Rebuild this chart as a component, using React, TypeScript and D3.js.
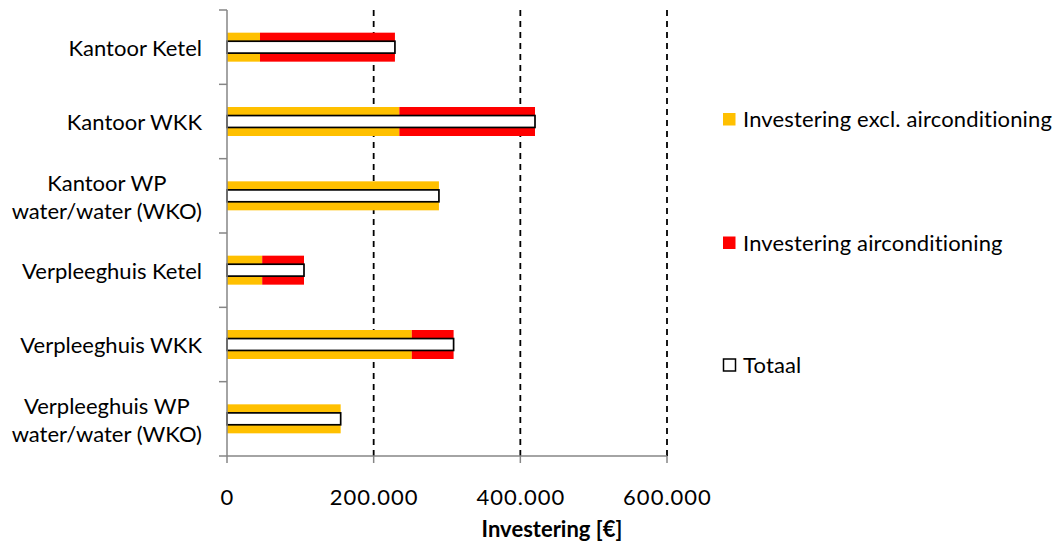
import React, { useEffect, useRef } from "react";
import * as d3 from "d3";

// Investment per building / installation variant (euro)
const categories: string[][] = [
  ["Kantoor Ketel"],
  ["Kantoor WKK"],
  ["Kantoor WP", "water/water (WKO)"],
  ["Verpleeghuis Ketel"],
  ["Verpleeghuis WKK"],
  ["Verpleeghuis WP", "water/water (WKO)"],
];
const exclAirco: number[] = [45000, 235000, 289000, 48000, 252000, 155000];
const airco: number[] = [184000, 185000, 0, 57000, 57000, 0];
const totaal: number[] = exclAirco.map((v, i) => v + airco[i]);

const xTicks: number[] = [0, 200000, 400000, 600000];
const seriesNames: string[] = [
  "Investering excl. airconditioning",
  "Investering airconditioning",
  "Totaal",
];
const axisTitle = "Investering [€]";

const W = 1062;
const H = 546;
const FONT = "Lato, 'Open Sans', sans-serif";
const FS = 22;
const ORANGE = "#FFC000";
const RED = "#FF0000";
const AXIS = "#868686";

const fmt = (v: number) =>
  v === 0 ? "0" : d3.format(",")(v).replace(/,/g, ".");

export default function App() {
  const ref = useRef<SVGSVGElement | null>(null);

  useEffect(() => {
    const svg = d3.select(ref.current);
    svg.selectAll("*").remove();

    const x = d3.scaleLinear().domain([0, 600000]).range([227, 667]);
    const keys = categories.map((c) => c.join(" "));
    const y = d3.scaleBand<string>().domain(keys).range([10, 456]).padding(0);
    const bw = y.bandwidth();
    const barH = bw * 0.39;
    const totH = bw * 0.16;

    // dashed vertical gridlines
    svg
      .append("g")
      .selectAll("line")
      .data(xTicks.filter((t) => t > 0))
      .join("line")
      .attr("x1", (d) => x(d))
      .attr("x2", (d) => x(d))
      .attr("y1", 10)
      .attr("y2", 456)
      .attr("stroke", "#000")
      .attr("stroke-width", 1.8)
      .attr("stroke-dasharray", "6,5");

    // stacked bars
    const rows = keys.map((k, i) => ({ k, a: exclAirco[i], b: airco[i], t: totaal[i] }));
    const bars = svg.append("g");
    bars
      .selectAll("rect.excl")
      .data(rows)
      .join("rect")
      .attr("class", "excl")
      .attr("x", x(0))
      .attr("y", (d) => (y(d.k) as number) + bw / 2 - barH / 2)
      .attr("width", (d) => x(d.a) - x(0))
      .attr("height", barH)
      .attr("fill", ORANGE);
    bars
      .selectAll("rect.airco")
      .data(rows.filter((d) => d.b > 0))
      .join("rect")
      .attr("class", "airco")
      .attr("x", (d) => x(d.a))
      .attr("y", (d) => (y(d.k) as number) + bw / 2 - barH / 2)
      .attr("width", (d) => x(d.a + d.b) - x(d.a))
      .attr("height", barH)
      .attr("fill", RED);
    bars
      .selectAll("rect.tot")
      .data(rows)
      .join("rect")
      .attr("class", "tot")
      .attr("x", x(0))
      .attr("y", (d) => (y(d.k) as number) + bw / 2 - totH / 2)
      .attr("width", (d) => x(d.t) - x(0))
      .attr("height", totH)
      .attr("fill", "#fff")
      .attr("stroke", "#000")
      .attr("stroke-width", 1.7);

    // y axis
    const yAxis = svg.append("g");
    yAxis
      .append("line")
      .attr("x1", 227)
      .attr("x2", 227)
      .attr("y1", 10)
      .attr("y2", 456)
      .attr("stroke", AXIS)
      .attr("stroke-width", 1.5);
    const bounds = keys.map((k) => y(k) as number).concat([456]);
    yAxis
      .selectAll("line.tick")
      .data(bounds)
      .join("line")
      .attr("class", "tick")
      .attr("x1", 219)
      .attr("x2", 227)
      .attr("y1", (d) => d)
      .attr("y2", (d) => d)
      .attr("stroke", AXIS)
      .attr("stroke-width", 1.5);

    // category labels: right aligned block, lines centred within it
    const labelRight = 202;
    categories.forEach((lines, i) => {
      const cy = (y(keys[i]) as number) + bw / 2;
      const g = yAxis.append("g");
      const texts = lines.map((ln, j) =>
        g
          .append("text")
          .attr("font-family", FONT)
          .attr("font-size", FS)
          .attr("fill", "#000")
          .attr("text-anchor", "middle")
          .attr("y", lines.length === 1 ? cy + 8.5 : cy + (j === 0 ? -4.5 : 23))
          .text(ln)
      );
      const widths = texts.map((t) => (t.node() as SVGTextElement).getComputedTextLength());
      const maxW = Math.max(...widths);
      texts.forEach((t) => t.attr("x", labelRight - maxW / 2));
    });

    // x axis
    const xAxis = svg.append("g");
    xAxis
      .append("line")
      .attr("x1", 227)
      .attr("x2", 667)
      .attr("y1", 456)
      .attr("y2", 456)
      .attr("stroke", AXIS)
      .attr("stroke-width", 1.5);
    xAxis
      .selectAll("line.tick")
      .data(xTicks)
      .join("line")
      .attr("class", "tick")
      .attr("x1", (d) => x(d))
      .attr("x2", (d) => x(d))
      .attr("y1", 456)
      .attr("y2", 463)
      .attr("stroke", AXIS)
      .attr("stroke-width", 1.5);
    xAxis
      .selectAll("text")
      .data(xTicks)
      .join("text")
      .attr("x", (d) => x(d) + 0.5)
      .attr("y", 505)
      .attr("text-anchor", "middle")
      .attr("font-family", FONT)
      .attr("font-size", FS)
      .attr("letter-spacing", 1)
      .text((d) => fmt(d));
    svg
      .append("text")
      .attr("x", 552)
      .attr("y", 537)
      .attr("text-anchor", "middle")
      .attr("font-family", FONT)
      .attr("font-size", FS)
      .attr("font-weight", "bold")
      .text(axisTitle);

    // legend
    const leg = svg.append("g");
    const legY = [127, 250.5, 372.5];
    const legFill = [ORANGE, RED, "#fff"];
    seriesNames.forEach((name, i) => {
      if (i < 2) {
        leg
          .append("rect")
          .attr("x", 723)
          .attr("y", legY[i] - 14)
          .attr("width", 12.5)
          .attr("height", 12.5)
          .attr("fill", legFill[i]);
      } else {
        leg
          .append("rect")
          .attr("x", 723.5)
          .attr("y", legY[i] - 13.5)
          .attr("width", 12)
          .attr("height", 12)
          .attr("fill", legFill[i])
          .attr("stroke", "#000")
          .attr("stroke-width", 1.5);
      }
      leg
        .append("text")
        .attr("x", 743)
        .attr("y", legY[i])
        .attr("font-family", FONT)
        .attr("font-size", FS)
        .attr("letter-spacing", 0.15)
        .text(name);
    });
  }, []);

  return (
    <svg
      ref={ref}
      width={W}
      height={H}
      style={{ display: "block", position: "absolute", left: 0, top: 0, background: "#fff" }}
    />
  );
}
